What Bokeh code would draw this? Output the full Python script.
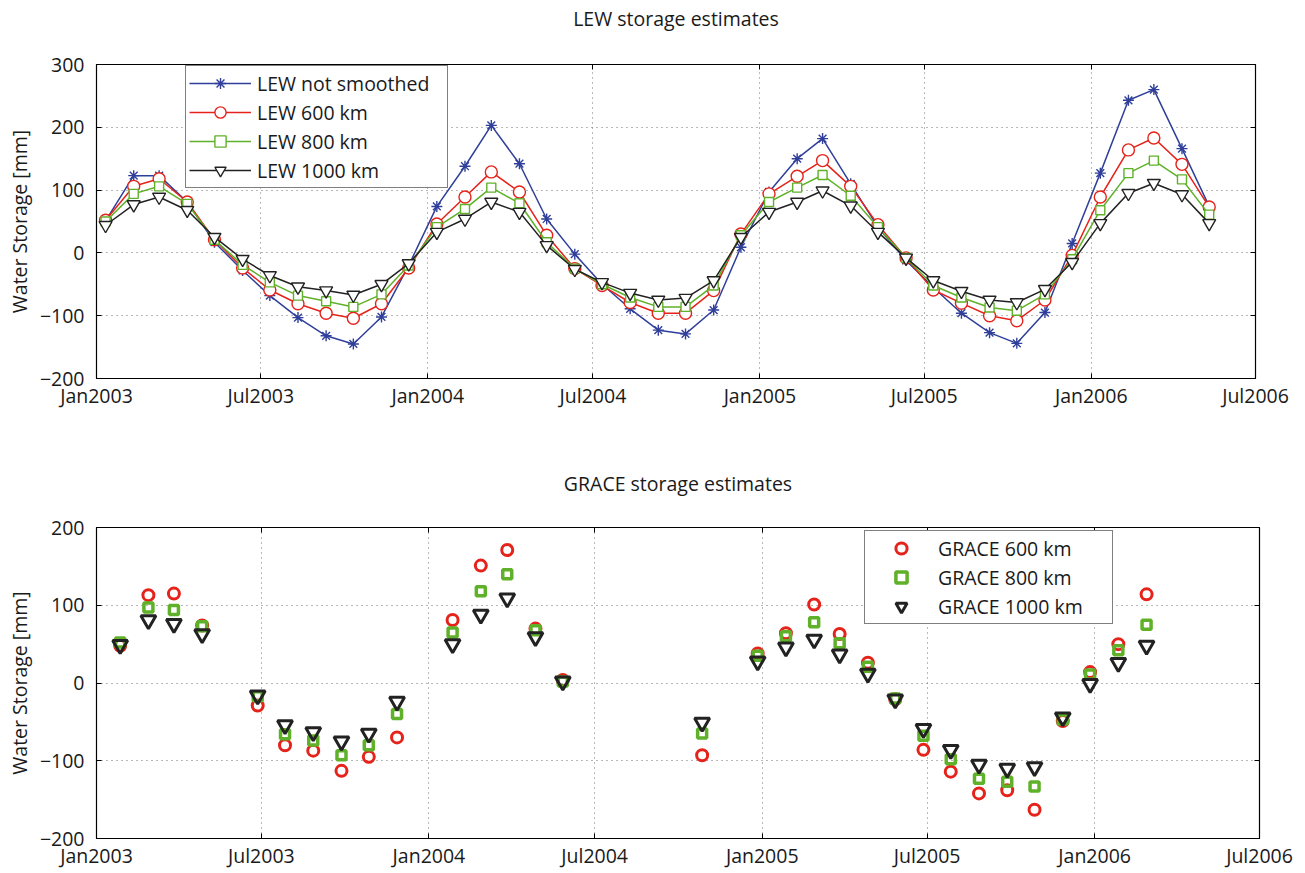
import pandas as pd
from bokeh.plotting import figure
from bokeh.layouts import column
from bokeh.models import (ColumnDataSource, FixedTicker, DatetimeTickFormatter, CustomJSTickFormatter,
                          Legend, LegendItem, LinearAxis, DatetimeAxis, Range1d, Title)
from bokeh.embed import file_html
from bokeh.resources import INLINE

# ---------------- data ----------------
lew_first_month = "2003-01"
lew_last_month = "2006-05"
lew_day = 11
lew_not_smoothed = [51, 123, 123, 81, 17, -28, -68, -103, -132, -145, -102, -20,
                    74, 138, 203, 142, 54, -2, -50, -89, -123, -129, -91, 9,
                    97, 150, 182, 110, 41, -12, -55, -96, -127, -144, -95, 15,
                    127, 243, 260, 166, 74]
lew_600 = [52, 106, 118, 81, 21, -24, -59, -81, -96, -104, -81, -24,
           46, 89, 129, 97, 28, -25, -52, -79, -96, -96, -60, 30,
           94, 122, 147, 106, 45, -8, -59, -80, -100, -108, -75, -4,
           89, 164, 183, 141, 73]
lew_800 = [50, 94, 106, 78, 21, -19, -47, -68, -77, -86, -66, -20,
           41, 70, 104, 79, 17, -25, -50, -71, -86, -86, -52, 28,
           81, 104, 124, 91, 41, -8, -52, -71, -87, -92, -66, -10,
           68, 127, 147, 117, 61]
lew_1000 = [44, 77, 89, 68, 25, -10, -36, -54, -60, -67, -50, -17,
            33, 54, 81, 65, 12, -26, -47, -64, -75, -72, -44, 25,
            65, 81, 99, 75, 33, -8, -44, -61, -75, -79, -58, -15,
            47, 95, 111, 93, 47]

grace_months = ["2003-01", "2003-02", "2003-03", "2003-04", "2003-06", "2003-07", "2003-08",
                "2003-09", "2003-10", "2003-11",
                "2004-01", "2004-02", "2004-03", "2004-04", "2004-05", "2004-10", "2004-12",
                "2005-01", "2005-02", "2005-03", "2005-04", "2005-05", "2005-06", "2005-07",
                "2005-08", "2005-09", "2005-10", "2005-11", "2005-12",
                "2006-01", "2006-02"]
grace_day = 27
grace_600 = [48, 113, 115, 74, -29, -80, -87, -113, -95, -70,
             81, 151, 171, 70, 4, -93, 38,
             64, 101, 63, 26, -21, -86, -114, -142, -138, -163, -49, 14,
             50, 114]
grace_800 = [52, 97, 94, 73, -17, -66, -74, -93, -80, -40,
             65, 118, 140, 68, 2, -65, 35,
             60, 78, 51, 21, -20, -68, -98, -123, -127, -133, -47, 11,
             42, 75]
grace_1000 = [49, 81, 76, 63, -16, -54, -63, -75, -65, -24,
              50, 88, 109, 59, 2, -51, 28,
              46, 56, 37, 12, -21, -59, -86, -105, -110, -108, -44, -1,
              26, 48]

x_tick_dates = ["2003-01-01", "2003-07-01", "2004-01-01", "2004-07-01",
                "2005-01-01", "2005-07-01", "2006-01-01", "2006-07-01"]
top_y_ticks = [-200, -100, 0, 100, 200, 300]
bottom_y_ticks = [-200, -100, 0, 100, 200]

# ---------------- styling ----------------
FONT = "Open Sans"
FS = "19.5px"
TXT = "#1a1a1a"
BLUE = "#2f3f9a"
RED = "#e5231b"
GREEN = "#5fb12a"
BLACK = "#222222"

lew_x = pd.period_range(lew_first_month, lew_last_month, freq="M").to_timestamp() + pd.Timedelta(days=lew_day - 1)
grace_x = pd.to_datetime(grace_months) + pd.Timedelta(days=grace_day - 1)
x_ticks_ms = [pd.Timestamp(d).value // 10**6 for d in x_tick_dates]

lew_src = ColumnDataSource(dict(x=lew_x, raw=lew_not_smoothed, s600=lew_600, s800=lew_800, s1000=lew_1000))
grace_src = ColumnDataSource(dict(x=grace_x, s600=grace_600, s800=grace_800, s1000=grace_1000))

minus_fmt = CustomJSTickFormatter(code="return tick < 0 ? '\\u2212' + Math.abs(tick) : String(tick);")


def make_fig(title, ylo, yhi, yticks, left, fw, right, top, fh, bottom, title_standoff, spacer_standoff):
    p = figure(width=left + fw + right, height=top + fh + bottom,
               x_axis_type="datetime",
               x_range=Range1d(pd.Timestamp(x_tick_dates[0]), pd.Timestamp(x_tick_dates[-1])),
               y_range=Range1d(ylo, yhi),
               output_backend="svg", toolbar_location=None,
               min_border_left=left, min_border_right=right,
               min_border_top=top, min_border_bottom=bottom)
    p.background_fill_color = "white"
    p.border_fill_color = "white"
    p.outline_line_color = "black"
    p.outline_line_width = 1.2

    xt = FixedTicker(ticks=x_ticks_ms)
    yt = FixedTicker(ticks=yticks)
    xfmt = DatetimeTickFormatter(days="%b%Y", months="%b%Y", years="%b%Y")

    xa = p.xaxis[0]
    xa.ticker = xt
    xa.formatter = xfmt
    ya = p.yaxis[0]
    ya.ticker = yt
    ya.formatter = minus_fmt
    for ax in (xa, ya):
        ax.major_tick_in = 5
        ax.major_tick_out = 0
        ax.minor_tick_line_color = None
        ax.axis_line_color = "black"
        ax.major_tick_line_color = "black"
        ax.major_label_text_font = FONT
        ax.major_label_text_font_size = FS
        ax.major_label_text_color = TXT
    xa.major_label_standoff = 3
    ya.major_label_standoff = 12
    ya.axis_label = "Water Storage [mm]"
    ya.axis_label_text_font = FONT
    ya.axis_label_text_font_size = FS
    ya.axis_label_text_font_style = "normal"
    ya.axis_label_text_color = TXT
    ya.axis_label_standoff = 4

    p.xgrid.ticker = xt
    p.ygrid.ticker = yt
    for g in (p.xgrid, p.ygrid):
        g.grid_line_color = "#707070"
        g.grid_line_dash = "1 4"
        g.grid_line_width = 1

    # inner ticks on top and right sides of the box
    top_ax = DatetimeAxis(ticker=xt, formatter=xfmt, major_tick_in=5, major_tick_out=0,
                          minor_tick_line_color=None, axis_line_color=None,
                          major_label_text_font_size="0px", major_label_text_color=None,
                          major_label_standoff=0)
    right_ax = LinearAxis(ticker=yt, major_tick_in=5, major_tick_out=0,
                          minor_tick_line_color=None, axis_line_color=None,
                          major_label_text_font_size="0px", major_label_text_color=None,
                          major_label_standoff=0)
    p.add_layout(top_ax, "above")
    p.add_layout(right_ax, "right")
    # empty spacer between the box and the title
    p.add_layout(Title(text=" ", standoff=spacer_standoff, text_font=FONT, text_font_size=FS), "above")

    p.title.text = title
    p.title.align = "center"
    p.title.text_font = FONT
    p.title.text_font_size = FS
    p.title.text_font_style = "normal"
    p.title.text_color = TXT
    p.title.standoff = title_standoff
    return p


# ---------------- top: LEW ----------------
p1 = make_fig("LEW storage estimates", top_y_ticks[0], top_y_ticks[-1], top_y_ticks,
              93, 1162, 36, 64, 314, 33, 5, 1)

items1 = []
specs1 = [("raw", BLUE, "asterisk", 11, "LEW not smoothed"),
          ("s600", RED, "circle", 12, "LEW 600 km"),
          ("s800", GREEN, "square", 9, "LEW 800 km"),
          ("s1000", BLACK, "inverted_triangle", 13, "LEW 1000 km")]
for col, color, marker, size, label in specs1:
    l = p1.line("x", col, source=lew_src, line_color=color, line_width=1.5)
    s = p1.scatter("x", col, source=lew_src, marker=marker, size=size,
                   line_color=color, line_width=1.4, fill_color="white")
    items1.append(LegendItem(label=label, renderers=[l, s]))

leg1 = Legend(items=items1, location=(89, 190), padding=3, spacing=1,
              glyph_width=62, glyph_height=28, label_height=28, label_standoff=6, label_width=187,
              border_line_color="black", border_line_width=1, background_fill_alpha=1,
              label_text_font=FONT, label_text_font_size=FS, label_text_color=TXT, margin=0)
p1.add_layout(leg1)

# ---------------- bottom: GRACE ----------------
p2 = make_fig("GRACE storage estimates", bottom_y_ticks[0], bottom_y_ticks[-1], bottom_y_ticks,
              96, 1163, 36, 116, 311, 33, 3, 0)

items2 = []
specs2 = [("s600", RED, "circle", 11, 3, "GRACE 600 km"),
          ("s800", GREEN, "square", 9, 3.5, "GRACE 800 km"),
          ("s1000", BLACK, "inverted_triangle", 15, 3, "GRACE 1000 km")]
for col, color, marker, size, lw, label in specs2:
    s = p2.scatter("x", col, source=grace_src, marker=marker, size=size,
                   line_color=color, line_width=lw, fill_color=None)
    items2.append(LegendItem(label=label, renderers=[s]))

leg2 = Legend(items=items2, location=(768, 214), padding=3, spacing=1,
              glyph_width=66, glyph_height=28, label_height=28, label_standoff=4, label_width=171,
              border_line_color="black", border_line_width=1, background_fill_alpha=1,
              label_text_font=FONT, label_text_font_size=FS, label_text_color=TXT, margin=0)
p2.add_layout(leg2)

layout = column(p1, p2, spacing=0)
open("out.html", "w").write(file_html(layout, INLINE))
